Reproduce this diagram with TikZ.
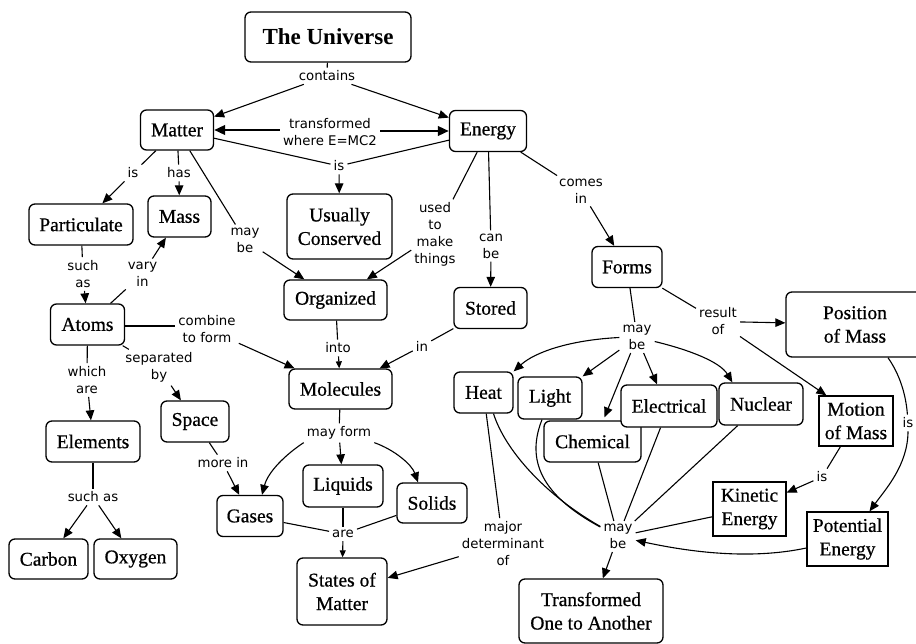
\documentclass[tikz,border=0pt]{standalone}
\usepackage{fontspec}
\setmainfont{Liberation Serif}
\newfontfamily\nodefam[FakeBold=0.7]{Liberation Serif}
\newfontfamily\lblfam{DejaVu Sans}
\usetikzlibrary{arrows.meta}
\newcommand\nodefnt{\nodefam\fontsize{19.5}{23.5}\selectfont}
\newcommand\unifnt{\bfseries\fontsize{23}{27}\selectfont}
\newcommand\lblfnt{\lblfam\fontsize{13.3}{17}\selectfont}
\tikzset{
  bx/.style={draw, fill=white, rounded corners=6pt, line width=1.3pt, inner sep=0pt, align=center, font=\nodefnt},
  sq/.style={draw, fill=white, line width=1.3pt, inner sep=0pt, align=center, font=\nodefnt},
  wh/.style 2 args={minimum width=#1pt, minimum height=#2pt},
  lb/.style={inner sep=3pt, align=center, font=\lblfnt},
  ln/.style={line width=1.1pt},
  ar/.style={line width=1.1pt, -{Triangle[length=10pt,width=8.5pt]}},
  ars/.style={line width=1.1pt, -{Triangle[length=7pt,width=6pt]}},
  thk/.style={line width=2.4pt},
  thkar/.style={line width=2.4pt, -{Triangle[length=11pt,width=9.5pt]}},
}
\begin{document}
\begin{tikzpicture}[x=1pt,y=-1pt]
\useasboundingbox (0,0) rectangle (916,644);
% concept boxes
\node[bx, font=\unifnt, wh={166}{50}] (uni) at (328,37) {The Universe};
\node[bx, wh={73}{40}] (matter) at (177,130) {Matter};
\node[bx, wh={77}{41}] (energy) at (488,131) {Energy};
\node[bx, wh={105}{65}] (cons) at (339.5,226.5) {Usually\\Conserved};
\node[bx, wh={104}{41}] (part) at (81,224.5) {Particulate};
\node[bx, wh={63}{41}] (mass) at (179.5,216.5) {Mass};
\node[bx, wh={70}{41}] (forms) at (627,267) {Forms};
\node[bx, wh={103}{40}] (org) at (335.5,300) {Organized};
\node[bx, wh={73}{41}] (stored) at (490.5,308) {Stored};
\node[bx, wh={164}{65}] (pos) at (868,324.5) {};
\node[font=\nodefnt, align=center, inner sep=0pt] (posT) at (855,324.5) {Position\\of Mass};
\node[bx, wh={74}{41}] (atoms) at (87.5,324.5) {Atoms};
\node[bx, wh={103}{40}] (mol) at (340.5,389) {Molecules};
\node[bx, wh={68}{41}] (space) at (195,421.5) {Space};
\node[bx, wh={94}{41}] (elem) at (93,441.5) {Elements};
\node[bx, wh={66}{41}] (gases) at (250,516) {Gases};
\node[bx, wh={80}{42}] (liq) at (343,486) {Liquids};
\node[bx, wh={70}{40}] (solids) at (432,503) {Solids};
\node[bx, wh={79}{40}] (carbon) at (48.5,559) {Carbon};
\node[bx, wh={83}{40}] (oxy) at (135.5,559) {Oxygen};
\node[bx, wh={90}{67}] (states) at (342,591.5) {States of\\Matter};
\node[bx, wh={59}{41}] (heat) at (483.5,392.5) {Heat};
\node[bx, wh={64}{42}] (light) at (550,398) {Light};
\node[bx, wh={97}{41}] (chem) at (592.5,441.5) {Chemical};
\node[bx, wh={96}{42}] (elec) at (669,406) {Electrical};
\node[bx, wh={84}{42}] (nuc) at (761,404) {Nuclear};
\node[sq, wh={74}{50}] (motion) at (856,421) {Motion\\of Mass};
\node[sq, wh={73}{54}] (kin) at (749.5,509) {Kinetic\\Energy};
\node[sq, wh={81}{54}] (pot) at (847.5,539) {Potential\\Energy};
\node[bx, wh={144}{64}] (trans2) at (591,611) {Transformed\\One to Another};
% linking phrases
\node[lb] (contains) at (327,76) {contains};
\node[lb] (transf) at (330,132) {transformed\\where E=MC2};
\node[lb] (isC) at (339,166) {is};
\node[lb] (isP) at (133,173) {is};
\node[lb] (has) at (179,173) {has};
\node[lb] (maybeO) at (245,240) {may\\be};
\node[lb] (used) at (435,234.5) {used\\to\\make\\things};
\node[lb] (canbe) at (491,246) {can\\be};
\node[lb] (comes) at (581,191) {comes\\in};
\node[lb] (result) at (718,321.5) {result\\of};
\node[lb] (mbF) at (637,337.5) {may\\be};
\node[lb] (suchP) at (83,274) {such\\as};
\node[lb] (vary) at (142.5,274) {vary\\in};
\node[lb] (combine) at (207,329) {combine\\to form};
\node[lb] (into) at (338,348) {into};
\node[lb] (inS) at (422,346) {in};
\node[lb] (sep) at (159,367.5) {separated\\by};
\node[lb] (which) at (87,380) {which\\are};
\node[lb] (mayform) at (339,433) {may form};
\node[lb] (morein) at (223,463) {more in};
\node[lb] (suchE) at (93,497) {such as};
\node[lb] (are) at (343,534) {are};
\node[lb] (major) at (503,543.5) {major\\determinant\\of};
\node[lb] (mbL) at (618,536.5) {may\\be};
\node[lb] (isM) at (822,477) {is};
\node[lb] (isPP) at (908,423) {is};
% connectors
\draw[ln] (uni) -- (contains);
\draw[ar] (contains) -- (matter);
\draw[ar] (contains) -- (energy);
\draw[thkar] (transf.west |- matter.east) -- (matter.east);
\draw[thkar] (transf.east |- energy.west) -- (energy.west);
\draw[ln] (matter) -- (isC);
\draw[ln] (energy) -- (isC);
\draw[ar] (isC) -- (cons);
\draw[ln] (matter) -- (isP);
\draw[ar] (isP) -- (part);
\draw[ln] (matter) -- (has);
\draw[ar] (has) -- (mass);
\draw[ln] (matter) -- (maybeO);
\draw[ar] (maybeO) -- (org);
\draw[ln] (energy) -- (used);
\draw[ar] (used) -- (org);
\draw[ln] (energy) -- (canbe);
\draw[ar] (canbe) -- (stored);
\draw[ln] (energy) -- (comes);
\draw[ar] (comes) -- (forms);
\draw[ln] (part) -- (suchP);
\draw[ar] (suchP) -- (atoms);
\draw[ln] (atoms) -- (vary);
\draw[ar] (vary) -- (mass);
\draw[thk] ([yshift=-1.5pt]atoms.east) -- ([yshift=-1.5pt]atoms.east -| combine.west);
\draw[ar] (combine) -- (mol);
\draw[ln] (atoms) -- (sep);
\draw[ar] (sep) -- (space);
\draw[ln] (atoms) -- (which);
\draw[ar] (which) -- (elem);
\draw[ln] (org) -- (into);
\draw[ars] (into) -- (mol);
\draw[ln] (stored) -- (inS);
\draw[ar] (inS) -- (mol);
\draw[ln] (space) -- (morein);
\draw[ar] (morein) -- (gases);
\draw[ln] (mol) -- (mayform);
\draw[ar] (mayform.south west) .. controls (285,455) and (268,472) .. ([xshift=12pt]gases.north);
\draw[ar] (mayform) -- (liq);
\draw[ar] (mayform.south east) .. controls (395,450) and (412,465) .. ([xshift=-14pt]solids.north);
\draw[ln] (gases) -- (are);
\draw[ln] (liq) -- (are);
\draw[ln] (solids) -- (are);
\draw[ars] (are) -- (states);
\draw[ln] (elem) -- (suchE);
\draw[ar] (suchE) -- (carbon);
\draw[ar] (suchE) -- (oxy);
\draw[ln] (forms) -- (mbF);
\draw[ar] (mbF.west) .. controls (570,340) and (535,352) .. (heat.north east);
\draw[ar] (mbF) -- (light.north east);
\draw[ar] (mbF) -- ([xshift=12pt,yshift=3pt]chem.north);
\draw[ar] (mbF) -- ([xshift=-12pt]elec.north);
\draw[ar] ([yshift=-4pt]mbF.east) .. controls (690,350) and (720,362) .. ([xshift=14pt]nuc.north west);
\draw[ln] (forms) -- (result);
\draw[ar] (result) -- (pos);
\draw[ar] (result) -- ([xshift=8pt]motion.north west);
\draw[ln] ([xshift=20pt]pos.south) .. controls (900,375) and (906,395) .. (isPP);
\draw[ar] (isPP) .. controls (908,465) and (885,490) .. ([xshift=22pt]pot.north);
\draw[ln] (motion) -- (isM);
\draw[ar] (isM) -- (kin);
\draw[ln] (kin) -- (mbL);
\draw[ar] ([yshift=-9pt]pot.west) .. controls (750,560) and (690,552) .. (mbL);
\draw[ln] (nuc) -- (mbL);
\draw[ln] (elec) -- (mbL);
\draw[ln] (chem) -- (mbL);
\draw[ln] ([xshift=10pt]heat.south) .. controls (505,450) and (545,495) .. (mbL);
\draw[ln] ([xshift=-8pt]light.south) .. controls (528,455) and (535,492) .. (mbL);
\draw[ln] (heat) -- (major);
\draw[ar] (major) -- (states);
\draw[ar] (mbL) -- (trans2);
\end{tikzpicture}
\end{document}
